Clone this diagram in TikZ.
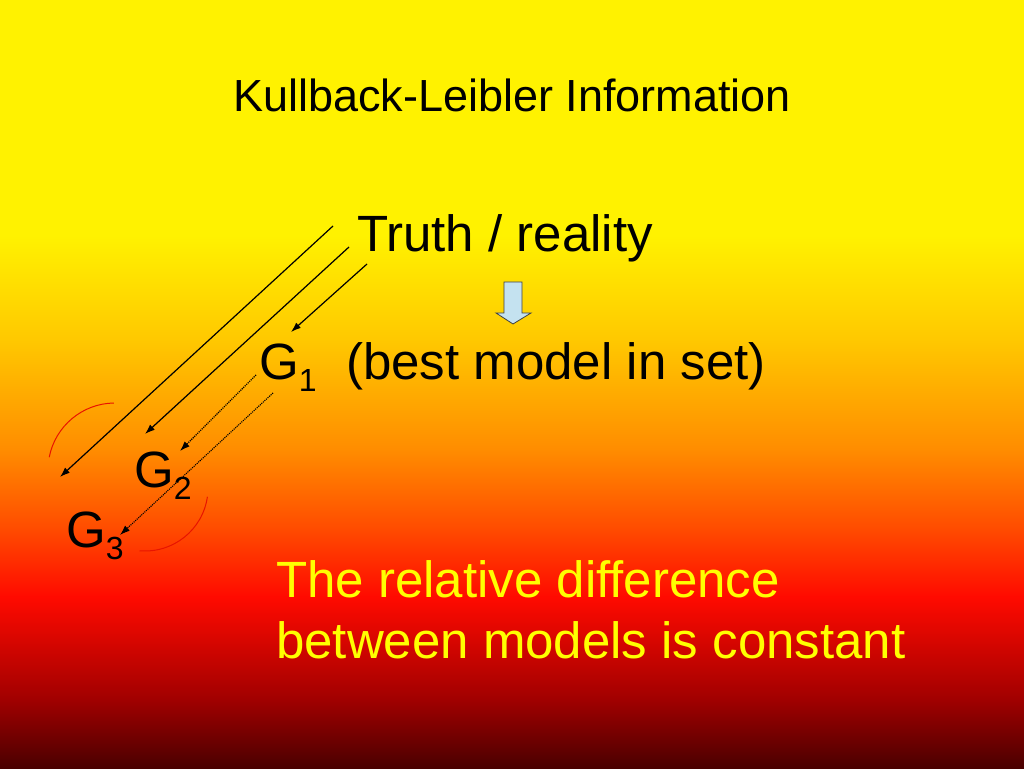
\documentclass[tikz,border=0pt]{standalone}
\usepackage{fontspec}
\setmainfont{Liberation Sans}
\usetikzlibrary{arrows.meta}
\definecolor{bgA}{HTML}{FFF200}
\definecolor{bgB}{HTML}{FFC800}
\definecolor{bgC}{HTML}{FF8C00}
\definecolor{bgD}{HTML}{FF4A00}
\definecolor{bgE}{HTML}{FF0A00}
\definecolor{bgF}{HTML}{A00000}
\definecolor{bgG}{HTML}{4A0000}
\definecolor{txtyellow}{HTML}{FFFF00}
\definecolor{arcred}{HTML}{E81400}
\definecolor{blockfill}{HTML}{C4E2F0}
\newcommand\mysub[1]{\raisebox{-12pt}{\fontsize{32}{32}\selectfont #1}}
\begin{document}
\begin{tikzpicture}[x=1pt,y=1pt,
  lbl/.style={inner sep=0pt, anchor=base west, font=\fontsize{51}{60}\selectfont},
  ttl/.style={inner sep=0pt, anchor=base, font=\fontsize{45}{54}\selectfont},
  solidarrow/.style={draw=black, line width=1.2pt, -{Latex[length=10pt,width=7pt]}},
  dotarrow/.style={solidarrow, line width=1.1pt, densely dotted},
  redarc/.style={draw=arcred, line width=1pt},
  blockarrow/.style={fill=blockfill, draw=black!75, line width=0.8pt, line join=miter}]
% background gradient
\useasboundingbox (0,0) rectangle (1024,768);
\fill[bgA] (0,532.5) rectangle (1024,768);
\shade[top color=bgA, bottom color=bgB] (0,427.5) rectangle (1024,533);
\shade[top color=bgB, bottom color=bgC] (0,317.5) rectangle (1024,428);
\shade[top color=bgC, bottom color=bgD] (0,237.5) rectangle (1024,318);
\shade[top color=bgD, bottom color=bgE] (0,170.5) rectangle (1024,238);
\shade[top color=bgE, bottom color=bgF] (0,67.5) rectangle (1024,171);
\shade[top color=bgF, bottom color=bgG] (0,0) rectangle (1024,68);
% texts
\node[ttl] (title) at (512,656) {Kullback-Leibler Information};
\node[lbl] (truth) at (357,516) {Truth / reality};
\node[lbl] (g1) at (259,388) {G\mysub{1}};
\node[lbl] (best) at (346,388) {(best model in set)};
\node[lbl] (g2) at (134,280) {G\mysub{2}};
\node[lbl] (g3) at (66,220) {G\mysub{3}};
\node[lbl, text=txtyellow] (rel1) at (276,170) {The relative difference};
\node[lbl, text=txtyellow] (rel2) at (276,110) {between models is constant};
% block arrow below Truth
\draw[blockarrow] (504,486) -- (522,486) -- (522,455) -- (531,455) -- (513,444) -- (496,455) -- (504,455) -- cycle;
% connector end points
\coordinate (a1s) at (333,542); \coordinate (a1e) at (60,291);
\coordinate (a2s) at (349,521); \coordinate (a2e) at (145,334);
\coordinate (a3s) at (367,504); \coordinate (a3e) at (291,436);
\coordinate (d1s) at (256,393); \coordinate (d1e) at (180,317);
\coordinate (d2s) at (273,375); \coordinate (d2e) at (120,233);
\draw[solidarrow] (a1s) -- (a1e);
\draw[solidarrow] (a2s) -- (a2e);
\draw[solidarrow] (a3s) -- (a3e);
\draw[dotarrow] (d1s) -- (d1e);
\draw[dotarrow] (d2s) -- (d2e);
% red arcs
\coordinate (c1) at (115,298);
\coordinate (c2) at (145,280);
\draw[redarc] (c1) ++(91:67pt) arc[start angle=91, end angle=169, radius=67pt];
\draw[redarc] (c2) ++(-8:63pt) arc[start angle=-8, end angle=-95, radius=63pt];
\end{tikzpicture}
\end{document}
